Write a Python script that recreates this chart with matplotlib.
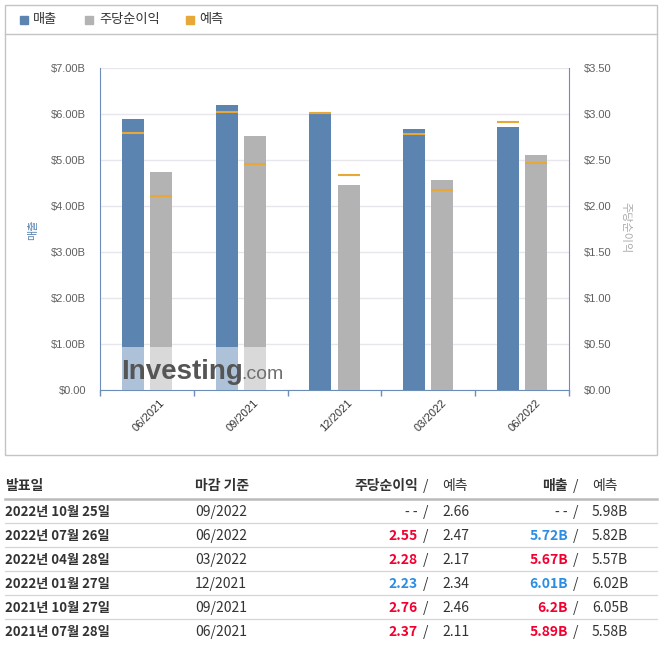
import numpy as np
import matplotlib
matplotlib.use('Agg')
import matplotlib.pyplot as plt
from matplotlib.patches import Rectangle
from matplotlib.lines import Line2D
from matplotlib.transforms import ScaledTranslation

plt.rcParams['font.family'] = ['Noto Sans CJK KR', 'DejaVu Sans']

W, H = 665, 652

# earnings table, newest first
release_dates = ['2022년 10월 25일', '2022년 07월 26일', '2022년 04월 28일',
                 '2022년 01월 27일', '2021년 10월 27일', '2021년 07월 28일']
period_ends = ['09/2022', '06/2022', '03/2022', '12/2021', '09/2021', '06/2021']
eps_actual = [None, 2.55, 2.28, 2.23, 2.76, 2.37]
eps_forecast = [2.66, 2.47, 2.17, 2.34, 2.46, 2.11]
rev_actual = [None, 5.72, 5.67, 6.01, 6.2, 5.89]      # billions USD
rev_forecast = [5.98, 5.82, 5.57, 6.02, 6.05, 5.58]

# chart uses the reported quarters, oldest first
chart_periods = period_ends[1:][::-1]
chart_rev = rev_actual[1:][::-1]
chart_rev_fc = rev_forecast[1:][::-1]
chart_eps = eps_actual[1:][::-1]
chart_eps_fc = eps_forecast[1:][::-1]

rev_ticks = list(range(8))
rev_labels = ['$0.00'] + ['$%d.00B' % v for v in rev_ticks[1:]]
eps_ticks = [0, 0.5, 1.0, 1.5, 2.0, 2.5, 3.0, 3.5]
eps_labels = ['$%.2f' % v for v in eps_ticks]

BLUE = '#5B84B1'
GRAY = '#B3B3B3'
ORANGE = '#E8A838'
AXIS = '#6B8DB8'
TXT = '#333333'
RED = '#F20030'
UPBLUE = '#2B8DE3'


def fx(p):
    return p / W


def fy(p):
    return 1 - p / H


fig = plt.figure(figsize=(W / 100, H / 100), dpi=100)

# chart panel frame + legend strip
fig.add_artist(Rectangle((fx(5), fy(455)), 652 / W, 450 / H, fill=False,
                         ec='#C4C4C4', lw=1, transform=fig.transFigure))
fig.add_artist(Line2D([fx(5), fx(657)], [fy(34), fy(34)], color='#C4C4C4',
                      lw=1, transform=fig.transFigure))
for sx, tx, name, col in [(20, 33, '매출', BLUE), (85, 99, '주당순이익', GRAY),
                          (186, 199, '예측', ORANGE)]:
    fig.add_artist(Rectangle((fx(sx), fy(24)), 8 / W, 8 / H, color=col,
                             transform=fig.transFigure))
    fig.text(fx(tx), fy(20), name, fontsize=9.5, color=TXT, ha='left', va='center')

ax = fig.add_axes([fx(100), fy(390), 469 / W, 322 / H])
ax2 = ax.twinx()

x = np.arange(len(chart_periods))
bw = 0.235
off = 0.15

ax.bar(x - off, chart_rev, width=bw, color=BLUE, zorder=2)
ax.hlines(chart_rev_fc, x - off - bw / 2, x - off + bw / 2, color=ORANGE, lw=1.5, zorder=3)
ax2.bar(x + off, chart_eps, width=bw, color=GRAY, zorder=2)
ax2.hlines(chart_eps_fc, x + off - bw / 2, x + off + bw / 2, color=ORANGE, lw=1.5, zorder=3)

ax.set_xlim(-0.5, len(x) - 0.5)
ax.set_ylim(0, 7)
ax2.set_ylim(0, 3.5)

ax.set_axisbelow(True)
ax.set_yticks(rev_ticks, rev_labels)
ax.yaxis.grid(True, color='#E6E6EC', lw=1)
ax2.set_yticks(eps_ticks, eps_labels)

ax.tick_params(axis='y', length=0, pad=10, labelsize=8, labelcolor='#606060')
ax2.tick_params(axis='y', length=0, pad=11, labelsize=8, labelcolor='#606060')
for lab in ax.get_yticklabels() + ax2.get_yticklabels():
    lab.set_fontfamily('Liberation Sans')

ax.set_xticks(np.arange(-0.5, len(x)), [''] * (len(x) + 1))
ax.tick_params(axis='x', length=4, width=1, color=AXIS, direction='out')

for a in (ax, ax2):
    a.spines['top'].set_visible(False)
ax.spines['right'].set_visible(False)
ax2.spines['left'].set_visible(False)
ax2.spines['bottom'].set_visible(False)
ax.spines['left'].set_color(AXIS)
ax.spines['bottom'].set_color(AXIS)
ax2.spines['right'].set_color(AXIS)

shift = ScaledTranslation(13 / 100, -8 / 100, fig.dpi_scale_trans)
for i, p in enumerate(chart_periods):
    ax.text(i, 0, p, transform=ax.get_xaxis_transform() + shift, rotation=45,
            rotation_mode='anchor', ha='right', va='top', fontsize=8, color=TXT,
            family='Liberation Sans')

fig.text(fx(33), fy(230), '매출', rotation=90, ha='center', va='center',
         color=BLUE, fontsize=8)
fig.text(fx(625), fy(228), '주당순이익', rotation=270, ha='center', va='center',
         color='#AAAAAA', fontsize=8)

# watermark
fig.add_artist(Rectangle((fx(118), fy(390)), 166 / W, 43 / H, color='white',
                         alpha=0.5, lw=0, transform=fig.transFigure))
fig.text(fx(121), fy(379), 'Investing', fontsize=20, fontweight='bold',
         color='#555555', family='Liberation Sans', va='baseline', ha='left')
fig.text(fx(241), fy(379), '.com', fontsize=14, color='#707070',
         family='Liberation Sans', va='baseline', ha='left')

# table
hy = 486
fig.text(fx(5), fy(hy), '발표일', fontsize=10, fontweight='bold', color=TXT, va='center')
fig.text(fx(195), fy(hy), '마감 기준', fontsize=10, fontweight='bold', color=TXT, va='center')
fig.text(fx(418), fy(hy), '주당순이익', fontsize=10, fontweight='bold', color=TXT,
         va='center', ha='right')
fig.text(fx(426), fy(hy), '/', fontsize=10, color=TXT, va='center', ha='center')
fig.text(fx(442), fy(hy), '예측', fontsize=10, color=TXT, va='center')
fig.text(fx(568), fy(hy), '매출', fontsize=10, fontweight='bold', color=TXT,
         va='center', ha='right')
fig.text(fx(576), fy(hy), '/', fontsize=10, color=TXT, va='center', ha='center')
fig.text(fx(592), fy(hy), '예측', fontsize=10, color=TXT, va='center')
fig.add_artist(Line2D([fx(5), fx(657)], [fy(499), fy(499)], color='#BBBBBB',
                      lw=1.8, transform=fig.transFigure))

for r in range(len(release_dates)):
    y = 512 + 24 * r
    fig.text(fx(5), fy(y), release_dates[r], fontsize=9.5, fontweight='bold',
             color=TXT, va='center')
    fig.text(fx(195), fy(y), period_ends[r], fontsize=10, color=TXT, va='center')

    ea, ef = eps_actual[r], eps_forecast[r]
    if ea is None:
        fig.text(fx(418), fy(y), '- -', fontsize=10, color=TXT, va='center', ha='right')
    else:
        fig.text(fx(418), fy(y), '%g' % ea, fontsize=10, fontweight='bold',
                 color=RED if ea > ef else UPBLUE, va='center', ha='right')
    fig.text(fx(426), fy(y), '/', fontsize=10, color=TXT, va='center', ha='center')
    fig.text(fx(442), fy(y), '%.2f' % ef, fontsize=10, color=TXT, va='center')

    ra, rf = rev_actual[r], rev_forecast[r]
    if ra is None:
        fig.text(fx(568), fy(y), '- -', fontsize=10, color=TXT, va='center', ha='right')
    else:
        fig.text(fx(568), fy(y), '%gB' % ra, fontsize=10, fontweight='bold',
                 color=RED if ra > rf else UPBLUE, va='center', ha='right')
    fig.text(fx(576), fy(y), '/', fontsize=10, color=TXT, va='center', ha='center')
    fig.text(fx(592), fy(y), '%.2fB' % rf, fontsize=10, color=TXT, va='center')

    if r < len(release_dates) - 1:
        fig.add_artist(Line2D([fx(5), fx(657)], [fy(y + 11), fy(y + 11)],
                              color='#D6D6D6', lw=0.9, transform=fig.transFigure))

fig.savefig('out.png', dpi=100)
